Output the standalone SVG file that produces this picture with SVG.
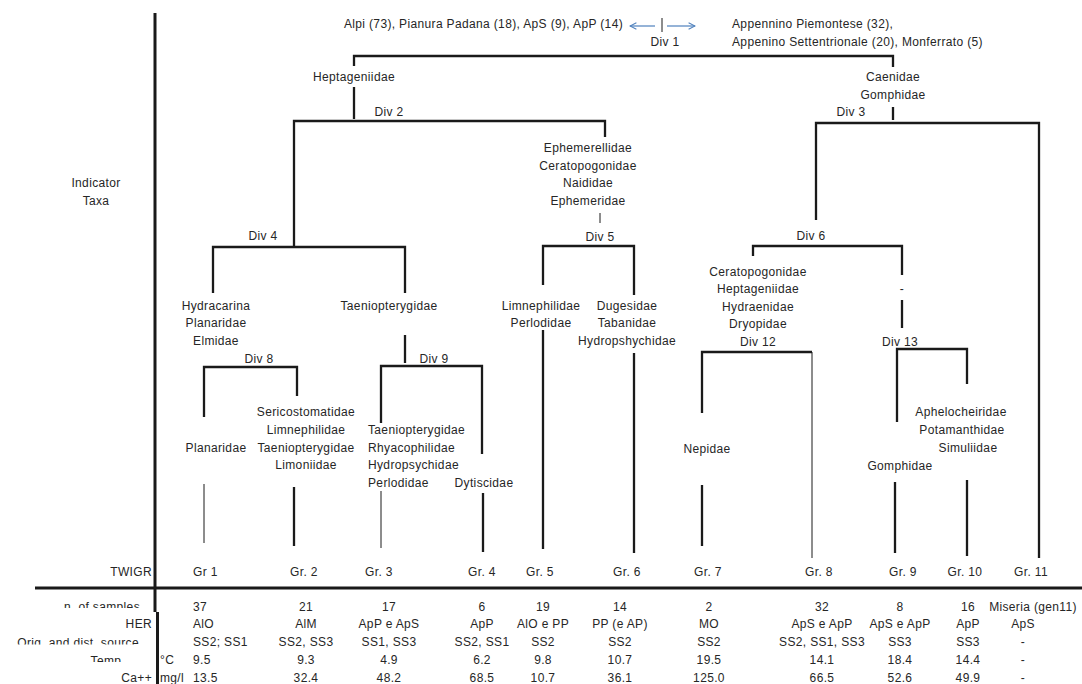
<svg xmlns="http://www.w3.org/2000/svg" width="1082" height="684" viewBox="0 0 1082 684">
<style>
text{font-family:"Liberation Sans",Arial,sans-serif;font-size:12px;letter-spacing:0.35px;fill:#262626}
.m{text-anchor:middle}
.e{text-anchor:end}
.k{fill:none;stroke:#1a1a1a;stroke-width:2.3}
.n{fill:none;stroke:#1a1a1a;stroke-width:1}
.ax{fill:none;stroke:#1a1a1a;stroke-width:3}
.ar{fill:none;stroke:#4f81bd;stroke-width:1.2}
</style>
<defs>
<marker id="ah" viewBox="0 0 10 10" refX="9" refY="5" markerWidth="8" markerHeight="8" markerUnits="userSpaceOnUse" orient="auto-start-reverse">
<path d="M1,1 L9,5 L1,9" fill="none" stroke="#4f81bd" stroke-width="1.3"/>
</marker>
<clipPath id="c1"><rect x="0" y="590" width="155" height="18"/></clipPath>
<clipPath id="c2"><rect x="0" y="630" width="155" height="14.5"/></clipPath>
<clipPath id="c3"><rect x="0" y="648" width="155" height="14"/></clipPath>
</defs>
<rect width="1082" height="684" fill="#fff"/>

<g id="axes">
<line class="ax" x1="155" y1="13" x2="155" y2="612"/>
<line class="ax" x1="157.5" y1="612" x2="157.5" y2="684"/>
<line class="ax" x1="35" y1="588" x2="1082" y2="588"/>
</g>

<g id="connectors">
<line class="ar" x1="655" y1="26" x2="630" y2="26" marker-end="url(#ah)"/>
<line class="n" x1="662" y1="18" x2="662" y2="32"/>
<line class="ar" x1="667" y1="26" x2="695" y2="26" marker-end="url(#ah)"/>
<polyline class="k" points="354,66 354,56 893,56 893,67"/>
<line class="k" x1="354" y1="87" x2="354" y2="119"/>
<polyline class="k" points="294,246 294,121 605,121 605,137"/>
<line class="k" x1="893" y1="107" x2="893" y2="120"/>
<polyline class="k" points="816,220 816,123 1039,123 1039,558"/>
<line class="n" x1="600" y1="213" x2="600" y2="223"/>
<polyline class="k" points="213,293 213,247 405,247 405,293"/>
<polyline class="k" points="543,285 543,246 634,246 634,295"/>
<polyline class="k" points="753,256 753,246 902,246 902,275"/>
<line class="k" x1="405" y1="335" x2="405" y2="363"/>
<line class="k" x1="902" y1="300" x2="902" y2="328"/>
<polyline class="k" points="204,417 204,367 297,367 297,396"/>
<polyline class="k" points="381,423 381,366 482,366 482,454"/>
<polyline class="k" points="702,413 702,352 812,352"/>
<line class="n" x1="812" y1="352" x2="812" y2="558"/>
<polyline class="k" points="897,422 897,349 967,349 967,384"/>
<line class="n" x1="204" y1="484" x2="204" y2="543"/>
<line class="k" x1="294" y1="487" x2="294" y2="546"/>
<line class="n" x1="381" y1="491" x2="381" y2="548"/>
<line class="k" x1="483" y1="493" x2="483" y2="552"/>
<line class="k" x1="543" y1="330" x2="543" y2="549"/>
<line class="k" x1="634" y1="353" x2="634" y2="553"/>
<line class="k" x1="702" y1="485" x2="702" y2="546"/>
<line class="k" x1="895" y1="482" x2="895" y2="553"/>
<line class="k" x1="967" y1="480" x2="967" y2="556"/>
</g>

<g id="root-left"><text class="e" x="623" y="28">Alpi (73), Pianura Padana (18), ApS (9), ApP (14)</text></g>
<g id="root-right"><text x="732" y="28">Appennino Piemontese (32),</text><text x="732" y="46">Appenino Settentrionale (20), Monferrato (5)</text></g>
<g id="div1"><text class="m" x="665" y="46">Div 1</text></g>
<g id="n-hept"><text class="m" x="354" y="81">Heptageniidae</text></g>
<g id="div2"><text class="m" x="389" y="116">Div 2</text></g>
<g id="n-caen"><text class="m" x="893" y="81">Caenidae</text><text class="m" x="893" y="99">Gomphidae</text></g>
<g id="div3"><text class="m" x="851" y="116">Div 3</text></g>
<g id="n-indicator"><text class="m" x="96" y="187">Indicator</text><text class="m" x="96" y="205">Taxa</text></g>
<g id="n-ephem"><text class="m" x="588" y="152">Ephemerellidae</text><text class="m" x="588" y="170">Ceratopogonidae</text><text class="m" x="588" y="187">Naididae</text><text class="m" x="588" y="205">Ephemeridae</text></g>
<g id="div4"><text class="m" x="263" y="240">Div 4</text></g>
<g id="div5"><text class="m" x="600" y="241">Div 5</text></g>
<g id="div6"><text class="m" x="811" y="240">Div 6</text></g>
<g id="n-hydra"><text class="m" x="216" y="310">Hydracarina</text><text class="m" x="216" y="327">Planaridae</text><text class="m" x="216" y="345">Elmidae</text></g>
<g id="n-taen"><text class="m" x="389" y="310">Taeniopterygidae</text></g>
<g id="n-limne"><text class="m" x="541" y="310">Limnephilidae</text><text class="m" x="541" y="327">Perlodidae</text></g>
<g id="n-duges"><text class="m" x="627" y="310">Dugesidae</text><text class="m" x="627" y="327">Tabanidae</text><text class="m" x="627" y="345">Hydropshychidae</text></g>
<g id="n-cerato"><text class="m" x="758" y="276">Ceratopogonidae</text><text class="m" x="758" y="293">Heptageniidae</text><text class="m" x="758" y="311">Hydraenidae</text><text class="m" x="758" y="328">Dryopidae</text></g>
<g id="div12"><text class="m" x="758" y="346">Div 12</text></g>
<g id="n-dash"><text class="m" x="902" y="293">-</text></g>
<g id="div13"><text class="m" x="900" y="346">Div 13</text></g>
<g id="div8"><text class="m" x="259" y="363">Div 8</text></g>
<g id="div9"><text class="m" x="434" y="363">Div 9</text></g>
<g id="n-serico"><text class="m" x="306" y="416">Sericostomatidae</text><text class="m" x="306" y="434">Limnephilidae</text><text class="m" x="306" y="452">Taeniopterygidae</text><text class="m" x="306" y="469">Limoniidae</text></g>
<g id="n-plan"><text class="m" x="216" y="452">Planaridae</text></g>
<g id="n-taen2"><text x="368" y="434">Taeniopterygidae</text><text x="368" y="452">Rhyacophilidae</text><text x="368" y="469">Hydropsychidae</text><text x="368" y="487">Perlodidae</text></g>
<g id="n-dyt"><text class="m" x="484" y="487">Dytiscidae</text></g>
<g id="n-nep"><text class="m" x="707" y="453">Nepidae</text></g>
<g id="n-aphel"><text class="m" x="961" y="416">Aphelocheiridae</text><text class="m" x="962" y="434">Potamanthidae</text><text class="m" x="968" y="452">Simuliidae</text></g>
<g id="n-gomph"><text class="m" x="900" y="470">Gomphidae</text></g>

<g id="groups">
<text class="e" x="152" y="576">TWIGR</text>
<text x="193" y="576">Gr 1</text>
<text class="m" x="304" y="576">Gr. 2</text>
<text class="m" x="379" y="576">Gr. 3</text>
<text class="m" x="482" y="576">Gr. 4</text>
<text class="m" x="540" y="576">Gr. 5</text>
<text class="m" x="627" y="576">Gr. 6</text>
<text class="m" x="708" y="576">Gr. 7</text>
<text class="m" x="819" y="576">Gr. 8</text>
<text class="m" x="903" y="576">Gr. 9</text>
<text class="m" x="965" y="576">Gr. 10</text>
<text class="m" x="1031" y="576">Gr. 11</text>
</g>

<g id="table">
<text class="e" x="140" y="611" clip-path="url(#c1)">n. of samples</text>
<text class="e" x="152" y="628">HER</text>
<text class="e" x="139" y="647" clip-path="url(#c2)">Orig. and dist. source</text>
<text class="e" x="125" y="665" clip-path="url(#c3)">Temp.</text>
<text x="160" y="664">°C</text>
<text class="e" x="152" y="682">Ca++</text>
<text x="160" y="682">mg/l</text>

<text x="193" y="611">37</text>
<text x="193" y="628">AlO</text>
<text x="193" y="646">SS2; SS1</text>
<text x="193" y="664">9.5</text>
<text x="193" y="682">13.5</text>

<text class="m" x="306" y="611">21</text>
<text class="m" x="306" y="628">AlM</text>
<text class="m" x="306" y="646">SS2, SS3</text>
<text class="m" x="306" y="664">9.3</text>
<text class="m" x="306" y="682">32.4</text>

<text class="m" x="389" y="611">17</text>
<text class="m" x="389" y="628">ApP e ApS</text>
<text class="m" x="389" y="646">SS1, SS3</text>
<text class="m" x="389" y="664">4.9</text>
<text class="m" x="389" y="682">48.2</text>

<text class="m" x="482" y="611">6</text>
<text class="m" x="482" y="628">ApP</text>
<text class="m" x="482" y="646">SS2, SS1</text>
<text class="m" x="482" y="664">6.2</text>
<text class="m" x="482" y="682">68.5</text>

<text class="m" x="543" y="611">19</text>
<text class="m" x="543" y="628">AlO e PP</text>
<text class="m" x="543" y="646">SS2</text>
<text class="m" x="543" y="664">9.8</text>
<text class="m" x="543" y="682">10.7</text>

<text class="m" x="620" y="611">14</text>
<text class="m" x="620" y="628">PP (e AP)</text>
<text class="m" x="620" y="646">SS2</text>
<text class="m" x="620" y="664">10.7</text>
<text class="m" x="620" y="682">36.1</text>

<text class="m" x="709" y="611">2</text>
<text class="m" x="709" y="628">MO</text>
<text class="m" x="709" y="646">SS2</text>
<text class="m" x="709" y="664">19.5</text>
<text class="m" x="709" y="682">125.0</text>

<text class="m" x="822" y="611">32</text>
<text class="m" x="822" y="628">ApS e ApP</text>
<text class="m" x="822" y="646">SS2, SS1, SS3</text>
<text class="m" x="822" y="664">14.1</text>
<text class="m" x="822" y="682">66.5</text>

<text class="m" x="900" y="611">8</text>
<text class="m" x="900" y="628">ApS e ApP</text>
<text class="m" x="900" y="646">SS3</text>
<text class="m" x="900" y="664">18.4</text>
<text class="m" x="900" y="682">52.6</text>

<text class="m" x="968" y="611">16</text>
<text class="m" x="968" y="628">ApP</text>
<text class="m" x="968" y="646">SS3</text>
<text class="m" x="968" y="664">14.4</text>
<text class="m" x="968" y="682">49.9</text>

<text class="m" x="1033" y="611">Miseria (gen11)</text>
<text class="m" x="1023" y="628">ApS</text>
<text class="m" x="1023" y="646">-</text>
<text class="m" x="1023" y="664">-</text>
<text class="m" x="1023" y="682">-</text>
</g>
</svg>
